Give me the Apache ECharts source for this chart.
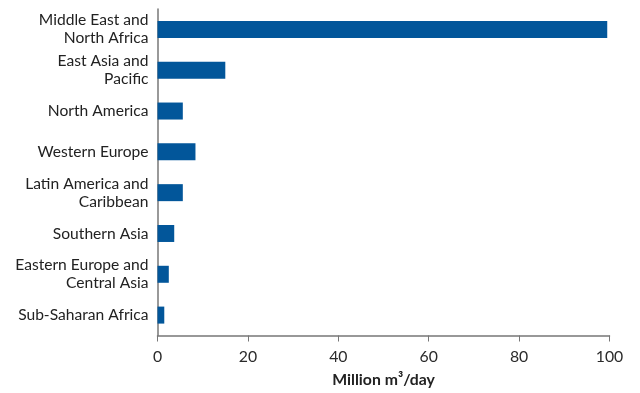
<!DOCTYPE html>
<html>
<head>
<meta charset="utf-8">
<script src="https://cdn.jsdelivr.net/npm/echarts@6/dist/echarts.min.js"></script>
<style>
html,body{margin:0;padding:0;background:#fff;}
#chart{width:640px;height:393px;}
</style>
</head>
<body>
<div id="chart"></div>
<script>
const categories = [
  'Middle East and North Africa',
  'East Asia and Pacific',
  'North America',
  'Western Europe',
  'Latin America and Caribbean',
  'Southern Asia',
  'Eastern Europe and Central Asia',
  'Sub-Saharan Africa'
];
const capacity = [99.5, 15.0, 5.6, 8.4, 5.6, 3.7, 2.5, 1.5];
const xTicks = [0, 20, 40, 60, 80, 100];
const xAxisName = 'Million m³/day';

const chart = echarts.init(document.getElementById('chart'), null, {renderer: 'canvas'});
chart.setOption({
  animation: false,
  backgroundColor: '#ffffff',
  textStyle: {fontFamily: 'Lato'},
  grid: {left: 157.5, right: 30.5, top: 9, bottom: 57.5, containLabel: false},
  xAxis: {
    type: 'value',
    min: xTicks[0],
    max: xTicks[xTicks.length - 1],
    interval: 20,
    name: xAxisName,
    nameLocation: 'middle',
    nameGap: 36,
    nameTextStyle: {fontFamily: 'Lato', fontSize: 15.8, fontWeight: 'bold', color: '#222'},
    axisLine: {show: true, lineStyle: {color: '#777', width: 1.5}},
    axisTick: {show: true, length: 6, lineStyle: {color: '#777', width: 1}},
    axisLabel: {fontFamily: 'Lato', fontSize: 15.8, color: '#2a2a2a', margin: 13},
    splitLine: {show: false}
  },
  yAxis: {
    type: 'category',
    data: categories,
    inverse: true,
    axisLine: {show: true, lineStyle: {color: '#777', width: 1.5}},
    axisTick: {show: false},
    axisLabel: {
      fontFamily: 'Lato', fontSize: 15.6, color: '#222', margin: 9, lineHeight: 18,
      formatter: v => v.replace(' and ', ' and\n')
    },
    splitLine: {show: false}
  },
  series: [{
    type: 'bar',
    data: capacity,
    barWidth: 17,
    itemStyle: {color: '#02569A'}
  }]
});
</script>
</body>
</html>
